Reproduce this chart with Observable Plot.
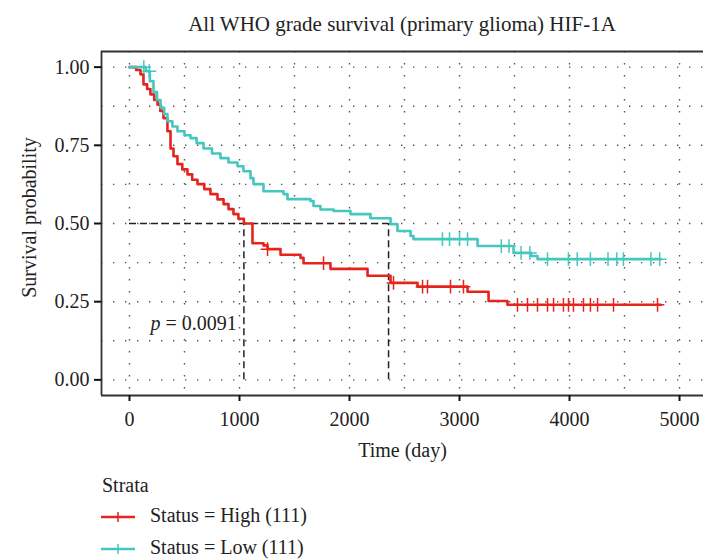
<!DOCTYPE html>
<html><head><meta charset="utf-8">
<script src="https://cdn.jsdelivr.net/npm/d3@7"></script>
<script src="https://cdn.jsdelivr.net/npm/@observablehq/plot@0.6"></script>
<style>
body{margin:0;background:#fff;font-family:"Liberation Serif",serif;color:#222;}
#wrap{position:relative;width:703px;height:560px;overflow:hidden;background:#fff}
#title{height:40px;line-height:48px;padding-left:101px;text-align:center;font-size:21px;white-space:nowrap}
#legend{position:absolute;left:0;top:470px;width:703px;height:90px;font-size:20px}
.lg{position:absolute;white-space:nowrap}
</style></head>
<body><div id="wrap">
<div id="title">All WHO grade survival (primary glioma) HIF-1A</div>
<div id="chart"></div>
<div id="legend"></div>
</div>
<script>
// ---- data ----
const strata = ["Status = High (111)", "Status = Low (111)"];
const colors = ["#e5241d", "#45c7bf"];

const highTime = [0, 60, 100, 127, 160, 190, 225, 255, 280, 309, 345, 373, 400, 436, 480, 527, 570, 618, 680, 736, 800, 855, 900, 945, 990, 1040, 1118, 1218, 1255, 1373, 1555, 1582, 1827, 2164, 2373, 2618, 3073, 3264, 3436, 4830];
const highSurv = [1.0, 0.991, 0.977, 0.945, 0.93, 0.913, 0.895, 0.88, 0.86, 0.837, 0.795, 0.74, 0.715, 0.69, 0.673, 0.657, 0.64, 0.626, 0.61, 0.594, 0.577, 0.562, 0.546, 0.53, 0.515, 0.50, 0.437, 0.43, 0.418, 0.40, 0.39, 0.373, 0.355, 0.333, 0.31, 0.298, 0.282, 0.252, 0.24, 0.24];

const lowTime = [0, 150, 185, 218, 250, 282, 315, 345, 390, 436, 500, 555, 610, 673, 750, 827, 900, 982, 1036, 1100, 1127, 1218, 1400, 1436, 1645, 1673, 1736, 1855, 2009, 2191, 2373, 2436, 2555, 2582, 3164, 3491, 3650, 3709, 4830];
const lowSurv = [1.0, 0.987, 0.955, 0.92, 0.895, 0.87, 0.85, 0.827, 0.81, 0.795, 0.782, 0.773, 0.757, 0.74, 0.724, 0.709, 0.695, 0.683, 0.667, 0.645, 0.626, 0.603, 0.594, 0.578, 0.572, 0.556, 0.545, 0.54, 0.53, 0.517, 0.498, 0.476, 0.46, 0.45, 0.428, 0.406, 0.396, 0.386, 0.386];

const highCensor = [1255, 1764, 2400, 2664, 2709, 2918, 3036, 3527, 3618, 3709, 3800, 3855, 3945, 3991, 4036, 4127, 4190, 4255, 4400, 4800];
const lowCensor = [130, 180, 2845, 2909, 3000, 3073, 3380, 3450, 3560, 3640, 3800, 3990, 4070, 4190, 4350, 4430, 4490, 4740, 4820];

const medians = [1040, 2355];
const pValue = "0.0091";
const pPos = {t: 190, s: 0.18};

const xTicks = [0, 1000, 2000, 3000, 4000, 5000];
const yTicks = [0, 0.25, 0.5, 0.75, 1];
const xGrid = [0, 500, 1000, 1500, 2000, 2500, 3000, 3500, 4000, 4500, 5000];
const yGrid = [0, 0.125, 0.25, 0.375, 0.5, 0.625, 0.75, 0.875, 1];
const xDomain = [-254.5, 5218];
const yDomain = [-0.05, 1.05];

// ---- build tables ----
const curves = [];
highTime.forEach((t, i) => curves.push({t, s: highSurv[i], g: strata[0]}));
lowTime.forEach((t, i) => curves.push({t, s: lowSurv[i], g: strata[1]}));
function stepAt(T, S, t) { let v = S[0]; for (let i = 0; i < T.length; i++) if (T[i] <= t) v = S[i]; return v; }
const censors = [];
highCensor.forEach(t => censors.push({t, s: stepAt(highTime, highSurv, t), g: strata[0]}));
lowCensor.forEach(t => censors.push({t, s: stepAt(lowTime, lowSurv, t), g: strata[1]}));

const font = "Liberation Serif";
const fs = 20;
const chart = Plot.plot({
  width: 703, height: 430,
  marginLeft: 101, marginRight: 0, marginTop: 11, marginBottom: 75,
  style: {fontFamily: font, fontSize: fs + "px", color: "#222", background: "transparent"},
  x: {domain: xDomain},
  y: {domain: yDomain},
  color: {domain: strata, range: colors},
  marks: [
    Plot.ruleX(xGrid, {stroke: "#555", strokeWidth: 1.4, strokeDasharray: "1.4,10.6"}),
    Plot.ruleY(yGrid, {stroke: "#555", strokeWidth: 1.4, strokeDasharray: "1.4,10.6"}),
    Plot.ruleX([xDomain[0]], {stroke: "#333", strokeWidth: 1.8}),
    Plot.ruleY(yDomain, {stroke: "#333", strokeWidth: 1.8}),
    Plot.axisX({ticks: xTicks, tickFormat: d => String(d), tickSize: 6, tickPadding: 10, strokeWidth: 2, stroke: "#111", label: null, fontSize: fs}),
    Plot.axisY({ticks: yTicks, tickFormat: d3.format(".2f"), tickSize: 7, tickPadding: 5, strokeWidth: 2, stroke: "#111", label: null, fontSize: fs}),
    Plot.ruleY([0.5], {x1: 0, x2: medians[1], stroke: "#222", strokeWidth: 1.5, strokeDasharray: "7,4"}),
    Plot.ruleX(medians, {y1: 0, y2: 0.5, stroke: "#222", strokeWidth: 1.5, strokeDasharray: "7,4"}),
    Plot.line(curves, {x: "t", y: "s", z: "g", stroke: "g", strokeWidth: 2.6, curve: "step-after"}),
    Plot.dot(censors, {x: "t", y: "s", stroke: "g", symbol: "plus", r: 4.5, strokeWidth: 1.5}),
    Plot.text(["p"], {x: pPos.t, y: pPos.s, textAnchor: "start", fontStyle: "italic", fontSize: fs}),
    Plot.text(["= " + pValue], {x: pPos.t, y: pPos.s, dx: 15, textAnchor: "start", fontSize: fs}),
    Plot.text(["Time (day)"], {frameAnchor: "bottom", textAnchor: "middle", lineAnchor: "middle", dy: 55, fontSize: fs}),
    Plot.text(["Survival probability"], {frameAnchor: "left", textAnchor: "middle", lineAnchor: "middle", dx: -72, dy: -6, rotate: -90, fontSize: fs})
  ]
});
document.getElementById("chart").appendChild(chart);

// ---- legend ----
const lg = document.getElementById("legend");
const head = document.createElement("div");
head.className = "lg"; head.style.left = "102px"; head.style.top = "4px"; head.textContent = "Strata";
lg.appendChild(head);
strata.forEach((name, i) => {
  const top = 37 + i * 32;
  const sw = document.createElementNS("http://www.w3.org/2000/svg", "svg");
  sw.setAttribute("width", 40); sw.setAttribute("height", 20);
  sw.style.position = "absolute"; sw.style.left = "99px"; sw.style.top = top + "px";
  sw.innerHTML = `<line x1="2" x2="36" y1="10" y2="10" stroke="${colors[i]}" stroke-width="2.4"/><line x1="19" x2="19" y1="5" y2="15" stroke="${colors[i]}" stroke-width="1.5"/>`;
  lg.appendChild(sw);
  const t = document.createElement("div");
  t.className = "lg"; t.style.left = "150px"; t.style.top = (top - 3) + "px"; t.textContent = name;
  lg.appendChild(t);
});
</script>
</body></html>
